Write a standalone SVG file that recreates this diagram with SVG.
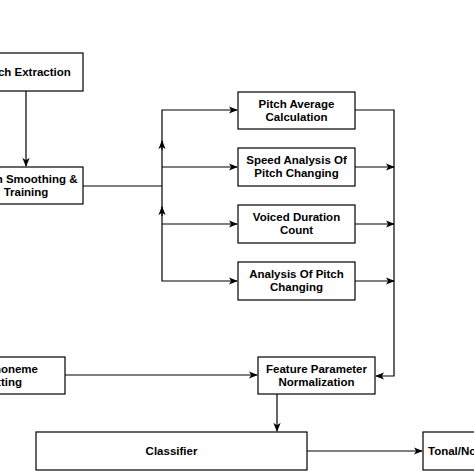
<svg xmlns="http://www.w3.org/2000/svg" width="474" height="474" viewBox="0 0 474 474">
<defs>
<style>
.box{fill:#fff;stroke:#000;stroke-width:1.2}
.t{font-family:"Liberation Sans",Arial,sans-serif;font-size:11.5px;font-weight:bold;fill:#000;text-anchor:middle}
.e{text-anchor:end}
.s{text-anchor:start}
.c{fill:none;stroke:#000;stroke-width:1.2}
</style>
<marker id="ah" viewBox="0 0 10 8" refX="9" refY="4" markerWidth="9" markerHeight="7.2" markerUnits="userSpaceOnUse" orient="auto">
<path d="M0,0 L10,4 L0,8 L2.5,4 z" fill="#000"/>
</marker>
</defs>
<rect width="474" height="474" fill="#fff"/>
<g id="connectors">
<path class="c" d="M26,91 V166" marker-end="url(#ah)"/>
<path class="c" d="M83,186 H162"/>
<path class="c" d="M162,186 V110 H237" marker-end="url(#ah)"/>
<path class="c" d="M162,186 V281 H237" marker-end="url(#ah)"/>
<path class="c" d="M162,167 H237" marker-end="url(#ah)"/>
<path class="c" d="M162,224 H237" marker-end="url(#ah)"/>
<path class="c" d="M162,150 V141" marker-end="url(#ah)"/>
<path class="c" d="M162,216 V207" marker-end="url(#ah)"/>
<path class="c" d="M355,110 H394 V376 H376" marker-end="url(#ah)"/>
<path class="c" d="M355,167 H394" marker-end="url(#ah)"/>
<path class="c" d="M355,224 H394" marker-end="url(#ah)"/>
<path class="c" d="M355,281 H394" marker-end="url(#ah)"/>
<path class="c" d="M65,375 H257" marker-end="url(#ah)"/>
<path class="c" d="M277,394 V431" marker-end="url(#ah)"/>
<path class="c" d="M307,451 H422" marker-end="url(#ah)"/>
</g>
<g id="pitch-extraction">
<rect class="box" x="-30" y="53" width="113" height="38"/>
<text class="t" x="27" y="76">Pitch Extraction</text>
</g>
<g id="pitch-smoothing">
<rect class="box" x="-30" y="167" width="113" height="37"/>
<text class="t" x="26" y="183">Pitch Smoothing &amp;</text>
<text class="t" x="26" y="196">Training</text>
</g>
<g id="pitch-average">
<rect class="box" x="238" y="92" width="117" height="37"/>
<text class="t" x="296.5" y="108">Pitch Average</text>
<text class="t" x="296.5" y="121">Calculation</text>
</g>
<g id="speed-analysis">
<rect class="box" x="238" y="148" width="117" height="38"/>
<text class="t" x="296.5" y="164">Speed Analysis Of</text>
<text class="t" x="296.5" y="177">Pitch Changing</text>
</g>
<g id="voiced-duration">
<rect class="box" x="238" y="205" width="117" height="38"/>
<text class="t" x="296.5" y="221">Voiced Duration</text>
<text class="t" x="296.5" y="234">Count</text>
</g>
<g id="analysis-pitch">
<rect class="box" x="238" y="262" width="117" height="38"/>
<text class="t" x="296.5" y="278">Analysis Of Pitch</text>
<text class="t" x="296.5" y="291">Changing</text>
</g>
<g id="phoneme">
<rect class="box" x="-40" y="357" width="105" height="37"/>
<text class="t e" x="38" y="372.5">Phoneme</text>
<text class="t e" x="22" y="385.5">Splitting</text>
</g>
<g id="feature-normalization">
<rect class="box" x="258" y="357" width="117" height="37"/>
<text class="t" x="316.5" y="372.5">Feature Parameter</text>
<text class="t" x="316.5" y="385.5">Normalization</text>
</g>
<g id="classifier">
<rect class="box" x="36" y="432" width="271" height="38"/>
<text class="t" x="171.5" y="455">Classifier</text>
</g>
<g id="tonal">
<rect class="box" x="423" y="432" width="100" height="38"/>
<text class="t s" x="428" y="455">Tonal/Non-Tonal</text>
</g>
</svg>
